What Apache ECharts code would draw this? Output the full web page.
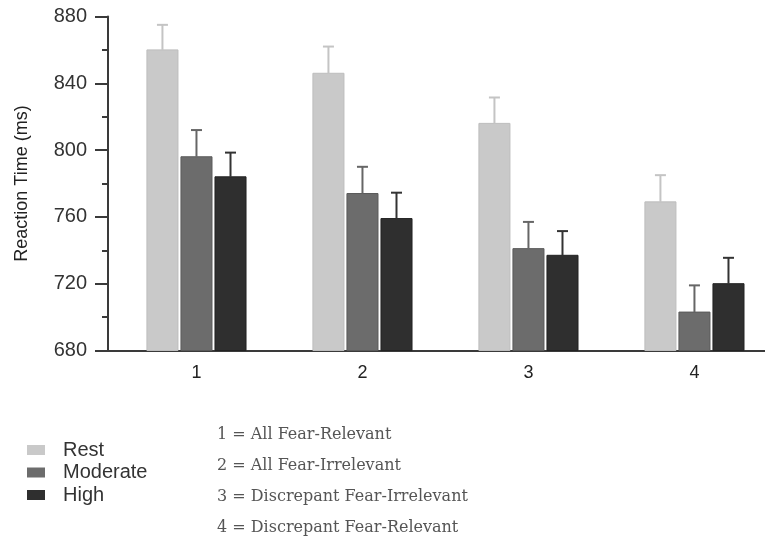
<!DOCTYPE html>
<html>
<head>
<meta charset="utf-8">
<script src="https://cdn.jsdelivr.net/npm/echarts@6/dist/echarts.min.js"></script>
<style>
  html, body { margin: 0; padding: 0; background: #fff; }
  #chart { width: 765px; height: 540px; }
</style>
</head>
<body>
<div id="chart"></div>
<script>
// Condition codes on the x axis and what each one stands for
const categories = ['1', '2', '3', '4'];
const conditionNames = [
  '1 = All Fear-Relevant',
  '2 = All Fear-Irrelevant',
  '3 = Discrepant Fear-Irrelevant',
  '4 = Discrepant Fear-Relevant'
];

// Anxiety levels (series)
const seriesNames = ['Rest', 'Moderate', 'High'];

// Mean reaction times (ms) per condition
const restRT = [860, 846, 816, 769];
const moderateRT = [796, 774, 741, 703];
const highRT = [784, 759, 737, 720];

// Standard errors (ms)
const restSE = [15, 16, 15.5, 16];
const moderateSE = [16, 16, 16, 16];
const highSE = [14.5, 15.5, 14.5, 15.5];

// Y axis range and ticks
const yMin = 680, yMax = 880, yStep = 40;

const fills = ['#c9c9c9', '#6c6c6c', '#2f2f2f'];
const edges = ['#bdbdbd', '#5a5a5a', '#222222'];
const whiskers = ['#c4c4c4', '#666666', '#333333'];

const BAR_W = 0.187;   // bar width, in category units
const BAR_STEP = 0.205; // distance between neighbouring bars in a group

function makeRows(values, errors) {
  return values.map((v, i) => [i + 1, v, errors[i]]);
}

function renderBar(params, api) {
  const x = api.value(0), v = api.value(1), se = api.value(2);
  const unit = api.size([1, 0])[0];
  const w = unit * BAR_W;
  const off = (params.seriesIndex - 1) * unit * BAR_STEP;
  const top = api.coord([x, v]);
  const base = api.coord([x, yMin]);
  const errTop = api.coord([x, v + se]);
  const cx = top[0] + off;
  const i = params.seriesIndex;
  return {
    type: 'group',
    children: [
      {
        type: 'rect',
        shape: { x: cx - w / 2, y: top[1], width: w, height: base[1] - top[1] },
        style: { fill: fills[i], stroke: edges[i], lineWidth: 1 }
      },
      {
        type: 'line',
        shape: { x1: cx, y1: top[1], x2: cx, y2: errTop[1] },
        style: { stroke: whiskers[i], lineWidth: 2 }
      },
      {
        type: 'line',
        shape: { x1: cx - 5.5, y1: errTop[1], x2: cx + 5.5, y2: errTop[1] },
        style: { stroke: whiskers[i], lineWidth: 2 }
      }
    ]
  };
}

const seriesData = [makeRows(restRT, restSE), makeRows(moderateRT, moderateSE), makeRows(highRT, highSE)];

const chart = echarts.init(document.getElementById('chart'), null, { renderer: 'canvas' });

chart.setOption({
  animation: false,
  color: fills,
  grid: { left: 108, right: 0, top: 16.5, bottom: 189.5 },
  xAxis: {
    type: 'value',
    min: 0.467,
    max: 4.425,
    splitNumber: 4,
    splitLine: { show: false },
    axisTick: { show: false },
    axisLine: { show: true, lineStyle: { color: '#3a3a3a', width: 2 } },
    axisLabel: {
      margin: 14,
      fontFamily: 'Liberation Sans',
      fontSize: 18,
      color: '#222',
      showMinLabel: false,
      showMaxLabel: false,
      formatter: v => (Number.isInteger(v) && categories[v - 1]) ? categories[v - 1] : ''
    }
  },
  yAxis: {
    type: 'value',
    min: yMin,
    max: yMax,
    interval: yStep,
    name: 'Reaction Time (ms)',
    nameLocation: 'middle',
    nameGap: 77,
    nameRotate: 90,
    nameTextStyle: { fontFamily: 'Liberation Sans', fontSize: 18, color: '#222' },
    splitLine: { show: false },
    axisLine: { show: true, lineStyle: { color: '#3a3a3a', width: 2 } },
    axisTick: { show: true, length: 13, lineStyle: { color: '#3a3a3a', width: 2 } },
    minorTick: { show: true, splitNumber: 2, length: 6, lineStyle: { color: '#3a3a3a', width: 2 } },
    axisLabel: { margin: 21, fontFamily: 'Liberation Sans', fontSize: 20, color: '#333' }
  },
  legend: {
    orient: 'vertical',
    left: 22,
    top: 435,
    itemWidth: 18,
    itemHeight: 10,
    itemGap: 2.5,
    icon: 'rect',
    data: seriesNames,
    textStyle: { fontFamily: 'Liberation Sans', fontSize: 20, color: '#333', padding: [0, 0, 0, 13] }
  },
  graphic: conditionNames.map((t, i) => ({
    type: 'text',
    left: 217,
    top: 427 + i * 31,
    style: { text: t, font: '16px "DejaVu Serif"', fill: '#555' }
  })),
  series: seriesNames.map((name, i) => ({
    name,
    type: 'custom',
    renderItem: renderBar,
    itemStyle: { color: fills[i] },
    encode: { x: 0, y: 1 },
    data: seriesData[i]
  }))
});
</script>
</body>
</html>
